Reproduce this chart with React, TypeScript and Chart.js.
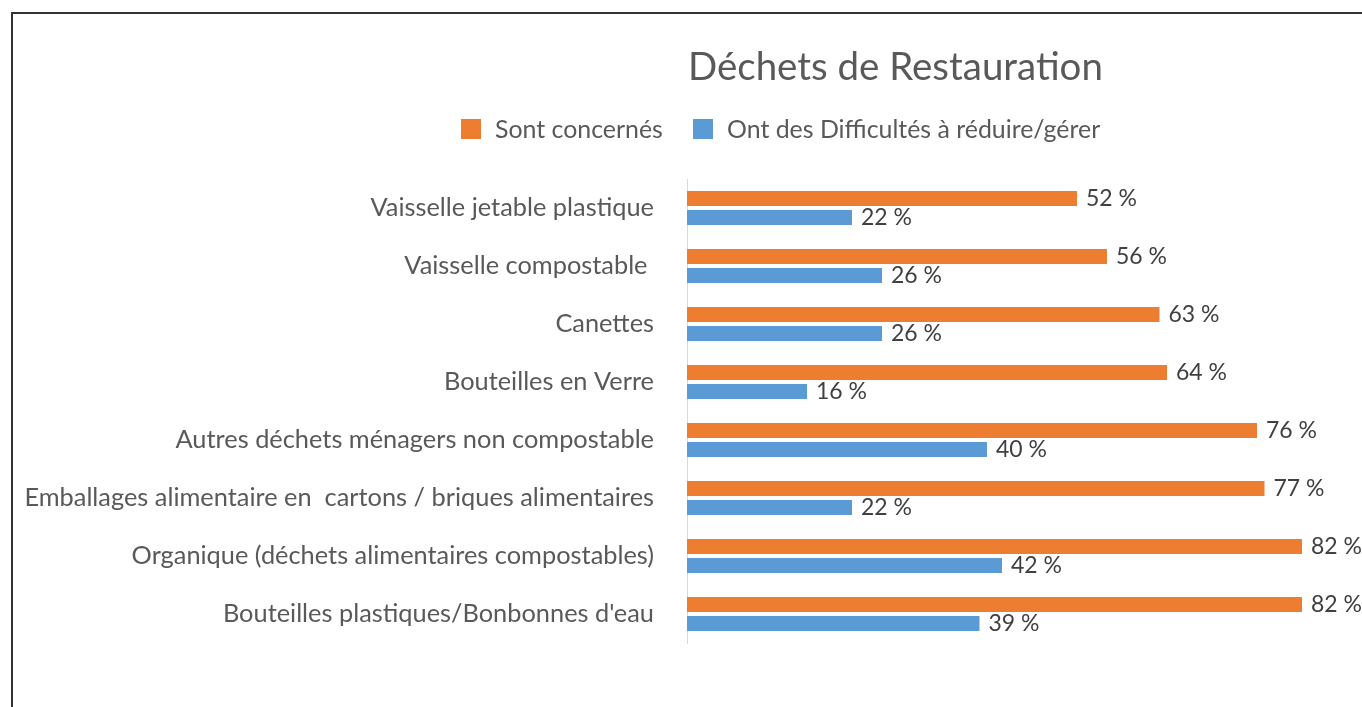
import React, { useEffect, useRef } from "react";
import { Chart, registerables } from "chart.js";

Chart.register(...registerables);

const categories = [
  "Vaisselle jetable plastique",
  "Vaisselle compostable ",
  "Canettes",
  "Bouteilles en Verre",
  "Autres déchets ménagers non compostable",
  "Emballages alimentaire en  cartons / briques alimentaires",
  "Organique (déchets alimentaires compostables)",
  "Bouteilles plastiques/Bonbonnes d'eau",
];
const sontConcernes = [52, 56, 63, 64, 76, 77, 82, 82];
const ontDifficultes = [22, 26, 26, 16, 40, 22, 42, 39];
const seriesNames = ["Sont concernés", "Ont des Difficultés à réduire/gérer"];
const seriesColors = ["#ED7D31", "#5B9BD5"];
const titleText = "Déchets de Restauration";

const FAMILY = "Lato, 'Open Sans', sans-serif";

function fitSize(text: string, target: number): number {
  const c = document.createElement("canvas");
  const ctx = c.getContext("2d")!;
  ctx.font = `100px ${FAMILY}`;
  const w = ctx.measureText(text).width;
  return (100 * target) / w;
}

export default function App() {
  const ref = useRef<HTMLCanvasElement | null>(null);

  useEffect(() => {
    if (!ref.current) return;
    const tickSize = fitSize(categories[5], 630);
    const titleSize = fitSize(titleText, 415);
    const legendSize = fitSize(seriesNames[0], 168);
    const labelSize = fitSize("52 %", 51);

    const decor = {
      id: "decor",
      afterDraw(chart: any) {
        const ctx = chart.ctx;
        ctx.save();
        ctx.textAlign = "left";
        ctx.textBaseline = "alphabetic";
        ctx.fillStyle = "#595959";
        ctx.font = `${titleSize}px ${FAMILY}`;
        ctx.fillText(titleText, 688, 80);
        // legend
        const items = [
          { sq: 461, tx: 495 },
          { sq: 693, tx: 727 },
        ];
        ctx.font = `${legendSize}px ${FAMILY}`;
        items.forEach((it, i) => {
          ctx.fillStyle = seriesColors[i];
          ctx.fillRect(it.sq, 119, 20, 20);
          ctx.fillStyle = "#595959";
          ctx.fillText(seriesNames[i], it.tx, 138);
        });
        ctx.restore();
      },
      afterDatasetsDraw(chart: any) {
        const ctx = chart.ctx;
        ctx.save();
        ctx.font = `${labelSize}px ${FAMILY}`;
        ctx.fillStyle = "#404040";
        ctx.textAlign = "left";
        ctx.textBaseline = "middle";
        chart.data.datasets.forEach((ds: any, di: number) => {
          const meta = chart.getDatasetMeta(di);
          meta.data.forEach((el: any, i: number) => {
            ctx.fillText(`${ds.data[i]} %`, el.x + 9, el.y);
          });
        });
        ctx.restore();
      },
    };

    const chart = new Chart(ref.current, {
      type: "bar",
      data: {
        labels: categories,
        datasets: [
          {
            label: seriesNames[0],
            data: sontConcernes,
            backgroundColor: seriesColors[0],
            categoryPercentage: 0.655,
            barPercentage: 0.79,
          },
          {
            label: seriesNames[1],
            data: ontDifficultes,
            backgroundColor: seriesColors[1],
            categoryPercentage: 0.655,
            barPercentage: 0.79,
          },
        ],
      },
      options: {
        indexAxis: "y",
        responsive: false,
        animation: false,
        devicePixelRatio: 1,
        layout: { padding: { top: 179, bottom: 64, left: 0, right: 0 } },
        plugins: {
          legend: { display: false },
          title: { display: false },
          tooltip: { enabled: false },
        },
        scales: {
          x: { display: false, min: 0, max: 90 },
          y: {
            grid: { display: false, drawTicks: false },
            border: { display: true, color: "#d9d9d9", width: 1 },
            ticks: {
              color: "#595959",
              padding: 33,
              font: { family: FAMILY, size: tickSize },
            },
            afterFit(scale: any) {
              scale.width = 687;
            },
          },
        },
      },
      plugins: [decor],
    } as any);
    return () => chart.destroy();
  }, []);

  return (
    <div
      style={{
        position: "fixed",
        left: 0,
        top: 0,
        width: 1362,
        height: 707,
        overflow: "hidden",
        background: "#fff",
      }}
    >
      <canvas
        ref={ref}
        width={1362}
        height={707}
        style={{ position: "absolute", left: 0, top: 0, width: 1362, height: 707 }}
      />
      <div
        style={{
          position: "absolute",
          left: 11,
          top: 12,
          width: 2000,
          height: 2000,
          borderTop: "2px solid #333",
          borderLeft: "2px solid #333",
          pointerEvents: "none",
        }}
      />
    </div>
  );
}
